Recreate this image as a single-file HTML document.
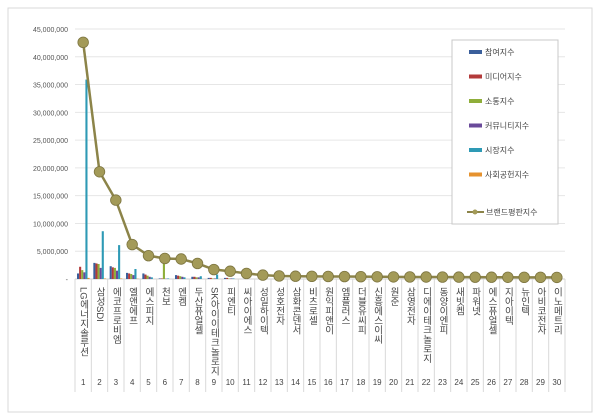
<!DOCTYPE html>
<html><head><meta charset="utf-8">
<style>
body{margin:0;background:#fff;width:600px;height:420px;overflow:hidden}
svg{display:block}
text{font-family:"Liberation Sans","Noto Sans CJK KR",sans-serif}
</style></head><body>
<svg id="s" width="600" height="420" xmlns="http://www.w3.org/2000/svg">
<rect x="8" y="8" width="584" height="404" fill="#fff" stroke="#d9d9d9"/>
</svg>
<script>
const s=document.getElementById('s');
const NS='http://www.w3.org/2000/svg';
function el(t,a,txt){const e=document.createElementNS(NS,t);for(const k in a)e.setAttribute(k,a[k]);if(txt!==undefined)e.textContent=txt;s.appendChild(e);return e;}
const L=75,W=490/30,Y0=279,K=250/45;
const y=v=>Y0-v*K;
for(let i=0;i<=9;i++){const yy=y(i*5);
 el('line',{x1:L,x2:565,y1:yy,y2:yy,stroke:i?'#e6e6e6':'#d0d0d0'});
 el('text',{x:68,y:yy+3,'font-size':7,'text-anchor':'end',fill:'#555'},i?(i*5).toLocaleString('en-US')+',000,000':'-');
}
for(let i=0;i<=30;i++){const xx=L+i*W;el('line',{x1:xx,x2:xx,y1:279,y2:392,stroke:'#d9d9d9'});}
const names=['LG에너지솔루션','삼성SDI','에코프로비엠','엘앤에프','에스피지','천보','엔켐','두산퓨얼셀','SK아이이테크놀로지','피엔티','씨아이에스','성일하이텍','성호전자','삼화콘덴서','비츠로셀','원익피앤이','엠플러스','더블유씨피','신흥에스이씨','원준','삼영전자','디에이테크놀로지','동양이엔피','새빗켐','파워넷','에스퓨얼셀','지아이텍','뉴인텍','아비코전자','이노메트리'];
const cols=['#3a5f9b','#b33a3a','#8fae3a','#6a4a9a','#2e9ab5','#e6922e'];
const bars=[[1,2.2,1.6,1.2,35.9,0.2],[2.9,2.8,2.7,2,8.6,0.1],[2.3,2.1,2,1.5,6.1,0.1],[1.1,1,0.9,0.7,1.8,0.05],[1,0.8,0.6,0.4,0.3,0],[0.1,0.1,3.7,0.05,0.1,0],[0.7,0.6,0.5,0.4,0.3,0],[0.4,0.4,0.3,0.3,0.5,0],[0.2,0.2,0.1,0.1,0.8,0],[0.2,0.2,0.1,0.1,0.1,0]];
bars.forEach((b,i)=>{b.forEach((v,j)=>{if(v<=0)return;const x=L+i*W+2+j*2.1;el('rect',{x:x,y:y(v),width:2.1,height:v*K,fill:cols[j]});});});
const line=[42.6,19.3,14.2,6.2,4.2,3.7,3.6,2.8,1.7,1.4,1.0,0.7,0.55,0.5,0.48,0.46,0.44,0.42,0.4,0.38,0.37,0.36,0.35,0.34,0.33,0.32,0.31,0.3,0.3,0.29];
el('polyline',{points:line.map((v,i)=>(L+(i+.5)*W)+','+y(v)).join(' '),fill:'none',stroke:'#8c8449','stroke-width':2.5});
line.forEach((v,i)=>el('circle',{cx:L+(i+.5)*W,cy:y(v),r:5.3,fill:'#a39a58',stroke:'#7d7540','stroke-width':0.8}));
names.forEach((n,i)=>{const cx=L+(i+.5)*W;
 el('text',{x:cx,y:287,'font-size':9.5,fill:'#444',style:'writing-mode:vertical-rl;text-orientation:mixed'},n);
 el('text',{x:cx,y:385,'font-size':8,'text-anchor':'middle',fill:'#444'},i+1);
});
el('rect',{x:452,y:40,width:106,height:184,fill:'#fff',stroke:'#c8c8c8'});
const ln=['참여지수','미디어지수','소통지수','커뮤니티지수','시장지수','사회공헌지수'];
ln.forEach((n,i)=>{const yy=52+i*24.5;el('rect',{x:469,y:yy-2,width:13,height:4,fill:cols[i]});el('text',{x:485,y:yy+3,'font-size':8,fill:'#444'},n);});
el('line',{x1:467,x2:484,y1:212,y2:212,stroke:'#8c8449','stroke-width':2});
el('circle',{cx:475,cy:212,r:2.5,fill:'#a39a58'});
el('text',{x:486,y:215,'font-size':8,fill:'#444'},'브랜드평판지수');
</script>
</body></html>
